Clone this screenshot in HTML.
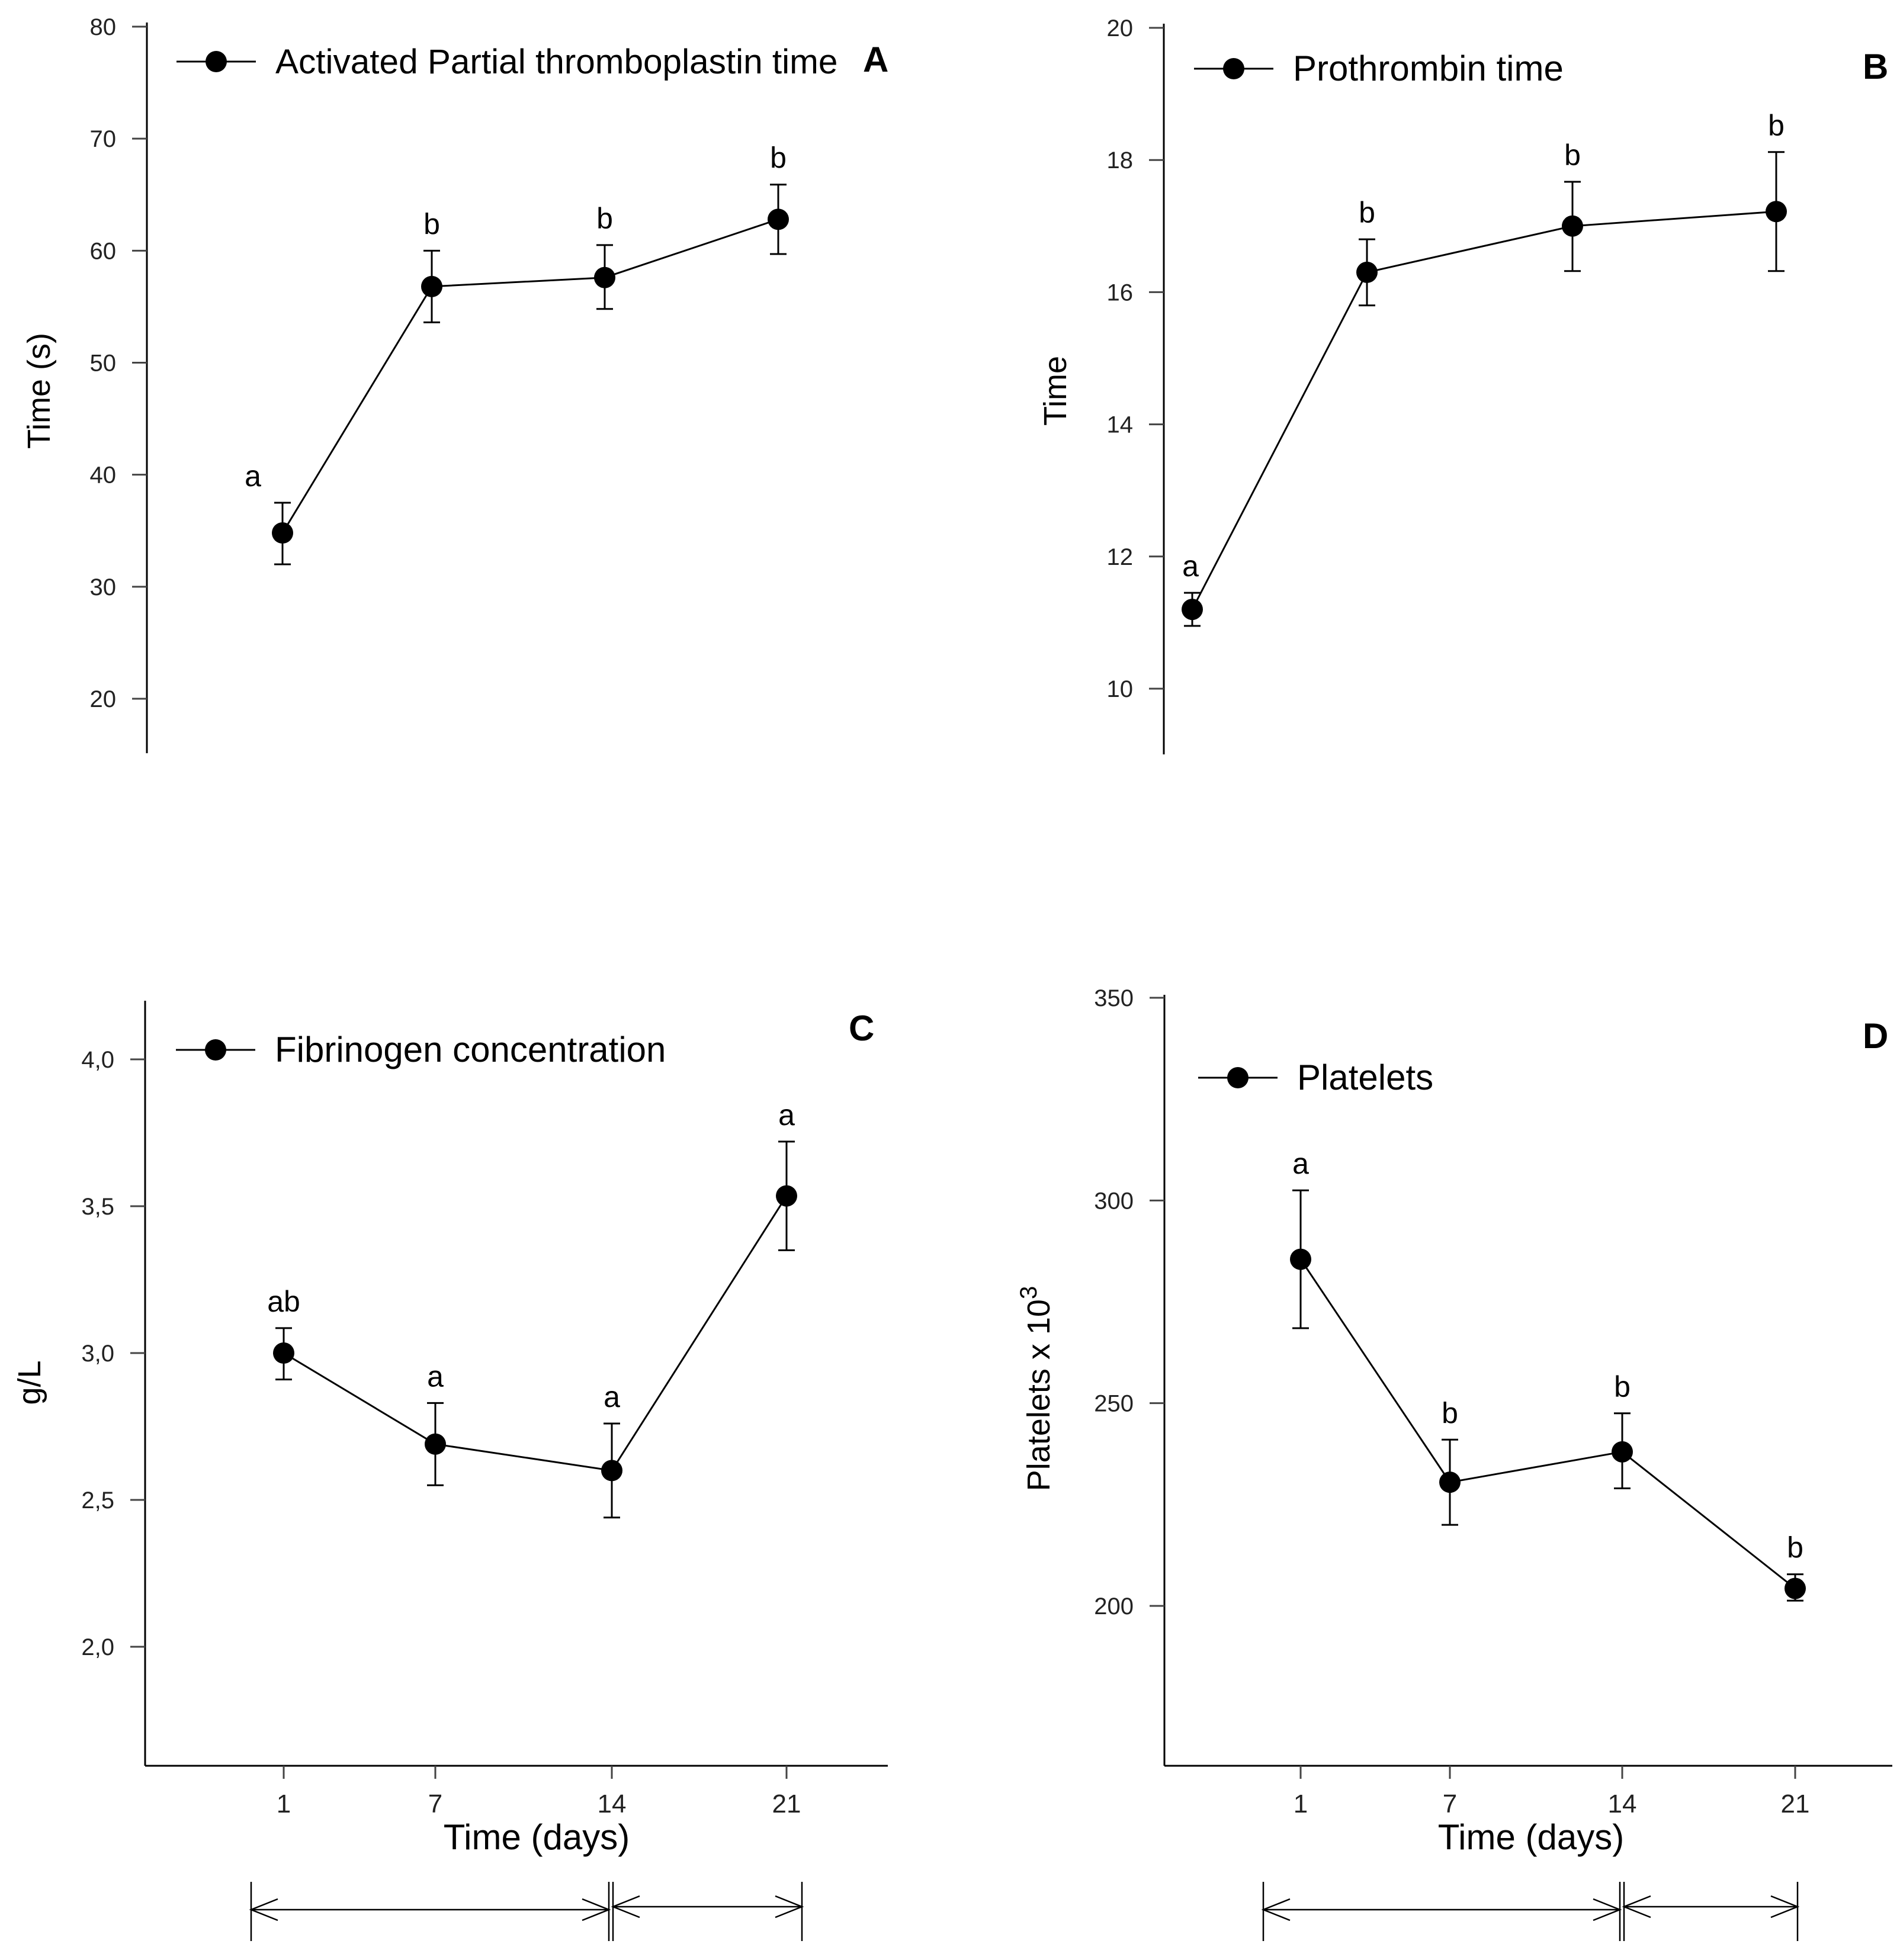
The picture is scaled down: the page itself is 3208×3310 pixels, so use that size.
<!DOCTYPE html>
<html><head><meta charset="utf-8"><style>
html,body{margin:0;padding:0;background:#fff;}
svg text{font-family:"Liberation Sans",Arial,sans-serif;}
</style></head>
<body>
<svg id="fig" width="3208" height="3305" viewBox="0 0 3208 3305" xmlns="http://www.w3.org/2000/svg"></svg>
<script>
// Panel A: APTT
const aValues = [34.8, 56.8, 57.6, 62.8];
const aErrUp = [2.7, 3.2, 2.9, 3.1];
const aErrDown = [2.8, 3.2, 2.8, 3.1];
const aLetters = ['a','b','b','b'];
const aTicks = [20,30,40,50,60,70,80];
// Panel B: PT
const bValues = [11.2, 16.3, 17.0, 17.22];
const bErrUp = [0.25, 0.5, 0.67, 0.9];
const bErrDown = [0.25, 0.5, 0.68, 0.9];
const bLetters = ['a','b','b','b'];
const bTicks = [10,12,14,16,18,20];
// Panel C: Fibrinogen
const cValues = [3.0, 2.69, 2.6, 3.535];
const cErrUp = [0.085, 0.14, 0.16, 0.185];
const cErrDown = [0.09, 0.14, 0.16, 0.185];
const cLetters = ['ab','a','a','a'];
const cTicks = [2.0,2.5,3.0,3.5,4.0];
// Panel D: Platelets
const dValues = [285.5, 230.5, 238, 204.3];
const dErrUp = [17, 10.5, 9.5, 3.5];
const dErrDown = [17, 10.5, 9, 3];
const dLetters = ['a','b','b','b'];
const dTicks = [200,250,300,350];
const days = ['1','7','14','21'];

const svg = document.getElementById('fig');
const NS = 'http://www.w3.org/2000/svg';
function mk(tag, attrs, parent){
  const e = document.createElementNS(NS, tag);
  for (const k in attrs) e.setAttribute(k, attrs[k]);
  (parent||svg).appendChild(e);
  return e;
}

function panel(cfg){
  const g = mk('g', {});
  
  
  const y = v => cfg.y0 + (v - cfg.v0) * (cfg.y1 - cfg.y0) / (cfg.v1 - cfg.v0);
  const ax = mk('line', {x1:cfg.ax, x2:cfg.ax, y1:cfg.top, y2:cfg.bottom, stroke:'#000','stroke-width':3}, g);
  
  
  cfg.ticks.forEach(t => {
    const tk = mk('line', {x1:cfg.ax-25, x2:cfg.ax, y1:y(t), y2:y(t), stroke:'#444','stroke-width':3}, g);
    
    
    const tl = mk('text', {x:cfg.ax-52, y:y(t)+14, 'font-size':40, 'text-anchor':'end', fill:'#222'}, g);
    tl.textContent = cfg.fmt(t);
    
    
  });
  const yt = mk('text', {x:cfg.ytx, y:cfg.yty, 'font-size':54, 'text-anchor':'middle', transform:`rotate(-90 ${cfg.ytx} ${cfg.yty})`}, g);
  
  
  if (cfg.sup){
    yt.textContent = cfg.ytitle;
    const s = mk('tspan', {'font-size':40, dy:-22}, yt);
    s.textContent = cfg.sup;
  } else yt.textContent = cfg.ytitle;
  if (cfg.xaxis){
    const xa = mk('line', {x1:cfg.ax, x2:cfg.xr, y1:cfg.bottom, y2:cfg.bottom, stroke:'#000','stroke-width':3}, g);
    
    
    cfg.xs.forEach((xx,i) => {
      const tk = mk('line', {x1:xx, x2:xx, y1:cfg.bottom, y2:cfg.bottom+22, stroke:'#444','stroke-width':3}, g);
      
      
      const tl = mk('text', {x:xx, y:cfg.bottom+79, 'font-size':44, 'text-anchor':'middle', fill:'#222'}, g);
      tl.textContent = days[i];
      
      
    });
    const xt = mk('text', {x:cfg.xtx, y:cfg.bottom+141, 'font-size':60, 'text-anchor':'middle'}, g);
    xt.textContent = 'Time (days)';
    
    
    const ar = cfg.arrows;
    const ag = mk('g', {stroke:'#000','stroke-width':2.5, fill:'none'}, g);
    
    
    [ar.x0, ar.xm, ar.xm+7, ar.x1].forEach(xx => mk('line', {x1:xx,x2:xx,y1:ar.yt,y2:ar.yb}, ag));
    const seg = (a,b,yy) => {
      mk('line', {x1:a,x2:b,y1:yy,y2:yy}, ag);
      mk('polyline', {points:`${a+45},${yy-18} ${a},${yy} ${a+45},${yy+18}`}, ag);
      mk('polyline', {points:`${b-45},${yy-18} ${b},${yy} ${b-45},${yy+18}`}, ag);
    };
    seg(ar.x0, ar.xm, ar.y);
    seg(ar.xm+7, ar.x1, ar.y-5);
  }
  const pts = cfg.values.map((v,i) => `${cfg.xs[i]},${y(v)}`).join(' ');
  const ln = mk('polyline', {points:pts, fill:'none', stroke:'#000','stroke-width':3}, g);
  
  
  cfg.values.forEach((v,i) => {
    const xx = cfg.xs[i];
    const hi = y(v + cfg.up[i]), lo = y(v - cfg.down[i]);
    const eb = mk('g', {stroke:'#000','stroke-width':3}, g);
    
    
    mk('line', {x1:xx,x2:xx,y1:hi,y2:lo}, eb);
    mk('line', {x1:xx-14,x2:xx+14,y1:hi,y2:hi}, eb);
    mk('line', {x1:xx-14,x2:xx+14,y1:lo,y2:lo}, eb);
    const c = mk('circle', {cx:xx, cy:y(v), r:18, fill:'#000'}, g);
    
    
    const lt = mk('text', {x:xx + (i===0 ? cfg.firstDx : 0), y:hi - 28, 'font-size':50, 'text-anchor':'middle'}, g);
    lt.textContent = cfg.letters[i];
    
    
  });
  const lg = mk('g', {}, g);
  
  
  mk('line', {x1:cfg.lx, x2:cfg.lx+134, y1:cfg.ly, y2:cfg.ly, stroke:'#000','stroke-width':3}, lg);
  mk('circle', {cx:cfg.lx+67, cy:cfg.ly, r:18, fill:'#000'}, lg);
  const lt = mk('text', {x:cfg.lx+167, y:cfg.ly+20, 'font-size':cfg.lfs}, lg);
  lt.textContent = cfg.legend;
  const pl = mk('text', {x:cfg.plx, y:cfg.ply+21, 'font-size':60, 'font-weight':'bold'}, g);
  pl.textContent = cfg.letter;
  
  
}

const int = t => String(t);
const comma = t => t.toFixed(1).replace('.', ',');

panel({name:'panel-a-aptt', ax:248, top:38, bottom:1272, v0:80, y0:45, v1:20, y1:1180,
  ticks:aTicks, fmt:int, values:aValues, up:aErrUp, down:aErrDown, letters:aLetters,
  xs:[477,729,1021,1314], firstDx:-50, ytitle:'Time (s)', ytx:84, yty:660, lfs:58.5,
  lx:298, ly:104, legend:'Activated Partial thromboplastin time', letter:'A', plx:1457, ply:100});
panel({name:'panel-b-pt', ax:1965, top:40, bottom:1274, v0:20, y0:47, v1:10, y1:1163,
  ticks:bTicks, fmt:int, values:bValues, up:bErrUp, down:bErrDown, letters:bLetters,
  xs:[2013,2308,2655,2999], firstDx:-3, ytitle:'Time', ytx:1800, yty:660, lfs:60,
  lx:2016, ly:116, legend:'Prothrombin time', letter:'B', plx:3145, ply:112});
panel({name:'panel-c-fibrinogen', ax:245, top:1690, bottom:2982, v0:4.0, y0:1789, v1:2.0, y1:2781,
  ticks:cTicks, fmt:comma, values:cValues, up:cErrUp, down:cErrDown, letters:cLetters,
  xs:[479,735,1033,1328], firstDx:0, ytitle:'g/L', ytx:68, yty:2335, lfs:60,
  lx:297, ly:1773, legend:'Fibrinogen concentration', letter:'C', plx:1433, ply:1736,
  xaxis:true, xr:1499, xtx:906, arrows:{x0:424, xm:1028, x1:1354, y:3225, yt:3178, yb:3278}});
panel({name:'panel-d-platelets', ax:1966, top:1680, bottom:2982, v0:350, y0:1685, v1:200, y1:2712,
  ticks:dTicks, fmt:int, values:dValues, up:dErrUp, down:dErrDown, letters:dLetters,
  xs:[2196,2448,2739,3031], firstDx:0, ytitle:'Platelets x 10', sup:'3', ytx:1772, yty:2345, lfs:60,
  lx:2023, ly:1820, legend:'Platelets', letter:'D', plx:3145, ply:1749,
  xaxis:true, xr:3195, xtx:2585, arrows:{x0:2133, xm:2735, x1:3035, y:3225, yt:3178, yb:3278}});
</script>
</body></html>
